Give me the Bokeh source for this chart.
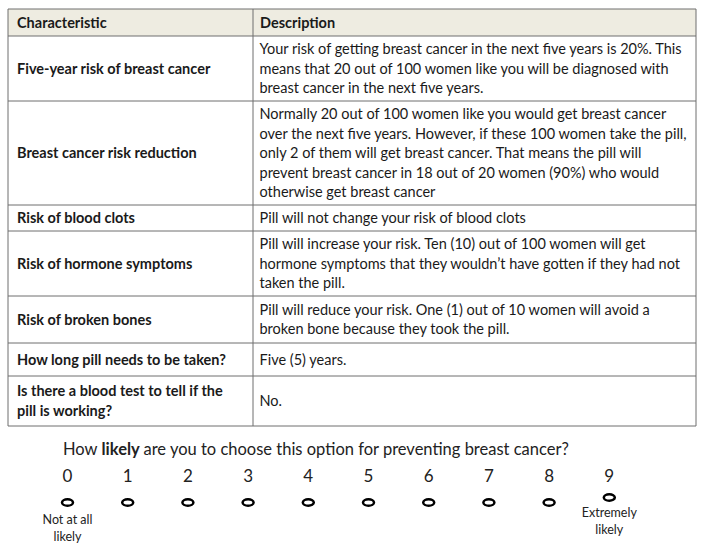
from bokeh.plotting import figure
from bokeh.models import Range1d
from bokeh.embed import file_html
from bokeh.resources import INLINE
from bokeh.core.properties import value

# ---------------- data ----------------
header_left = "Characteristic"
header_right = "Description"

characteristics = [
    "Five-year risk of breast cancer",
    "Breast cancer risk reduction",
    "Risk of blood clots",
    "Risk of hormone symptoms",
    "Risk of broken bones",
    "How long pill needs to be taken?",
    "Is there a blood test to tell if the\npill is working?",
]

descriptions = [
    "Your risk of getting breast cancer in the next five years is 20%. This\n"
    "means that 20 out of 100 women like you will be diagnosed with\n"
    "breast cancer in the next five years.",
    "Normally 20 out of 100 women like you would get breast cancer\n"
    "over the next five years. However, if these 100 women take the pill,\n"
    "only 2 of them will get breast cancer. That means the pill will\n"
    "prevent breast cancer in 18 out of 20 women (90%) who would\n"
    "otherwise get breast cancer",
    "Pill will not change your risk of blood clots",
    "Pill will increase your risk. Ten (10) out of 100 women will get\n"
    "hormone symptoms that they wouldn\u2019t have gotten if they had not\n"
    "taken the pill.",
    "Pill will reduce your risk. One (1) out of 10 women will avoid a\n"
    "broken bone because they took the pill.",
    "Five (5) years.",
    "No.",
]

question_parts = ["How", "likely", "are you to choose this option for preventing breast cancer?"]
scale_labels = ["0", "1", "2", "3", "4", "5", "6", "7", "8", "9"]
low_anchor = "Not at all\nlikely"
high_anchor = "Extremely\nlikely"

# ---------------- layout ----------------
X0, XMID, X1 = 7.5, 252.5, 695.5
Y_TOP, HEADER_H = 8.5, 27
row_heights = [65, 104, 26, 65, 47, 33, 50]
LINE_H = 19.5
FONT = "Lato"
BORDER = "#6e6e6e"
TXT = "#1a1a1a"
BODY_SIZE = "14.5px"
Q_SIZE = "16.5px"

p = figure(width=704, height=547, output_backend="svg", toolbar_location=None,
           x_range=Range1d(0, 704), y_range=Range1d(547, 0),
           min_border=0, outline_line_color=None)
p.axis.visible = False
p.grid.visible = False
p.background_fill_color = "white"
p.border_fill_color = "white"

# header background
p.quad(left=[X0], right=[X1], top=[Y_TOP], bottom=[Y_TOP + HEADER_H],
       fill_color="#EEECE1", line_color=None)

# row boundaries
bounds = [Y_TOP, Y_TOP + HEADER_H]
for h in row_heights:
    bounds.append(bounds[-1] + h)

p.segment(x0=[X0] * len(bounds), x1=[X1] * len(bounds), y0=bounds, y1=bounds,
          line_color=BORDER, line_width=1)
p.segment(x0=[X0, XMID, X1], x1=[X0, XMID, X1], y0=[Y_TOP] * 3, y1=[bounds[-1]] * 3,
          line_color=BORDER, line_width=1)

# header text
hy = Y_TOP + HEADER_H / 2
p.text(x=[X0 + 9, XMID + 7], y=[hy, hy], text=[header_left, header_right],
       text_font=value(FONT), text_font_style="bold", text_font_size=BODY_SIZE,
       text_baseline="middle", text_align="left", text_color=TXT)

# body text
lx, ly, lt = [], [], []
rx, ry, rt = [], [], []
for i, (c, d) in enumerate(zip(characteristics, descriptions)):
    cy = (bounds[i + 1] + bounds[i + 2]) / 2 - 0.5
    cl = c.split("\n")
    for j, s in enumerate(cl):
        lx.append(X0 + 9)
        ly.append(cy + (j - (len(cl) - 1) / 2) * LINE_H)
        lt.append(s)
    dl = d.split("\n")
    for j, s in enumerate(dl):
        rx.append(XMID + 6.5)
        ry.append(cy + (j - (len(dl) - 1) / 2) * LINE_H)
        rt.append(s)

p.text(x=lx, y=ly, text=lt, text_font=value(FONT), text_font_style="bold",
       text_font_size=BODY_SIZE, text_baseline="middle", text_align="left",
       text_color=TXT)
p.text(x=rx, y=ry, text=rt, text_font=value(FONT), text_font_size=BODY_SIZE,
       text_baseline="middle", text_align="left", text_color=TXT)

# question
qy = 448
p.text(x=[97], y=[qy], text=[question_parts[0]], text_font=value(FONT),
       text_font_size=Q_SIZE, text_baseline="middle", text_align="right",
       text_color="#222222")
p.text(x=[101], y=[qy], text=[question_parts[1]], text_font=value(FONT),
       text_font_style="bold", text_font_size=Q_SIZE, text_baseline="middle",
       text_color="#222222")
p.text(x=[143], y=[qy], text=[question_parts[2]], text_font=value(FONT),
       text_font_size=Q_SIZE, text_baseline="middle", text_color="#222222")

# scale
sx = [67 + i * 60.2 for i in range(len(scale_labels))]
p.text(x=sx, y=[475] * len(sx), text=scale_labels, text_font=value(FONT),
       text_font_size="17px", text_baseline="middle", text_align="center",
       text_color="#222222")
ey = [502] * (len(sx) - 1) + [497]
p.ellipse(x=sx, y=ey, width=11, height=6.5, fill_color="white",
          line_color="black", line_width=2.5)

for xc, ys, txt in [(sx[0], 519, low_anchor), (sx[-1], 512, high_anchor)]:
    parts = txt.split("\n")
    p.text(x=[xc] * len(parts), y=[ys + k * 16.5 for k in range(len(parts))], text=parts,
           text_font=value(FONT), text_font_size="12.5px", text_baseline="middle",
           text_align="center", text_color="#222222")

open("out.html", "w").write(file_html(p, INLINE))
